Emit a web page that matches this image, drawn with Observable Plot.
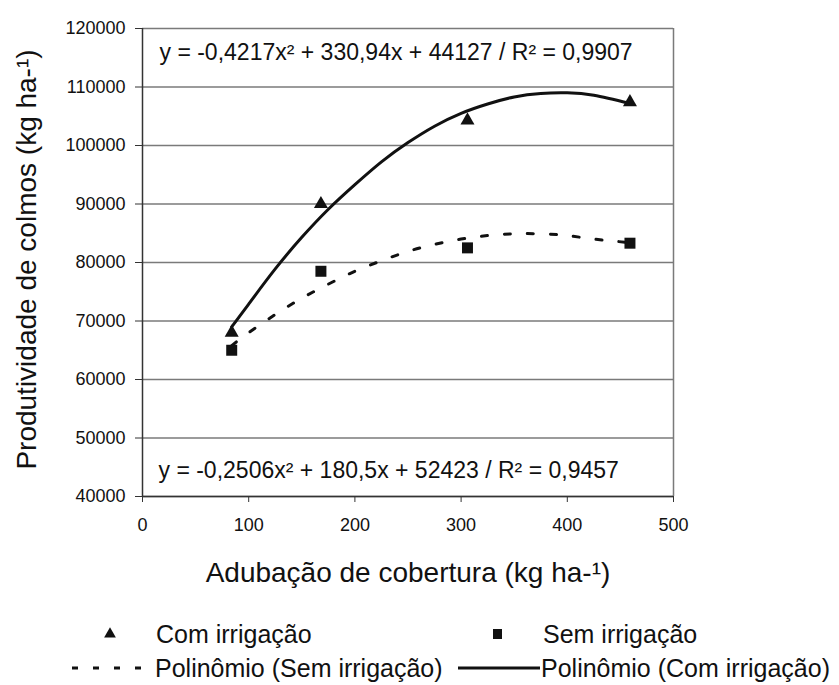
<!DOCTYPE html>
<html>
<head>
<meta charset="utf-8">
<script src="https://cdn.jsdelivr.net/npm/d3@7"></script>
<script src="https://cdn.jsdelivr.net/npm/@observablehq/plot@0.6"></script>
<style>
  html, body { margin: 0; padding: 0; background: #fff; }
  #wrap { position: relative; width: 839px; height: 685px; font-family: "Liberation Sans", Arial, sans-serif; color: #111; }
  #legend { position: absolute; left: 0; top: 600px; }
</style>
</head>
<body>
<div id="wrap"><div id="chart"></div><svg id="legend" width="839" height="85"></svg></div>
<script>
// Observed points
const dose = [84, 168, 306, 459];
const comIrrigacao = [68000, 90000, 104300, 107400];
const semIrrigacao = [65000, 78500, 82500, 83300];

// Trend curves
const fitX = [84, 100, 125, 150, 175, 200, 225, 250, 275, 300, 325, 350, 375, 400, 425, 459];
const fitCom = [69000, 72900, 78900, 84300, 89100, 93300, 97200, 100500, 103300, 105500, 107100, 108300, 108900, 109000, 108600, 107200];
const fitSem = [65800, 68000, 71100, 73900, 76300, 78500, 80300, 81900, 83100, 84000, 84600, 84900, 84900, 84600, 84000, 83400];

const xTicks = [0, 100, 200, 300, 400, 500];
const yTicks = [40000, 50000, 60000, 70000, 80000, 90000, 100000, 110000, 120000];

const eqCom = "y = -0,4217x² + 330,94x + 44127 / R² = 0,9907";
const eqSem = "y = -0,2506x² + 180,5x + 52423 / R² = 0,9457";
const xLabel = "Adubação de cobertura (kg ha-¹)";
const yLabel = "Produtividade de colmos (kg ha-¹)";

const legendItems = ["Com irrigação", "Sem irrigação", "Polinômio (Sem irrigação)", "Polinômio (Com irrigação)"];

const pts = dose.map((d, i) => ({x: d, com: comIrrigacao[i], sem: semIrrigacao[i]}));
const fit = fitX.map((d, i) => ({x: d, com: fitCom[i], sem: fitSem[i]}));

const font = "'Liberation Sans', Arial, sans-serif";

const chart = Plot.plot({
  width: 839,
  height: 600,
  marginLeft: 142,
  marginRight: 166,
  marginTop: 28,
  marginBottom: 104,
  style: {fontFamily: font, fontSize: "18px", color: "#111", background: "#fff", overflow: "visible"},
  x: {domain: [0, 500]},
  y: {domain: [40000, 120000]},
  marks: [
    Plot.ruleY(yTicks, {stroke: "#7a7a7a", strokeWidth: 1.5}),
    Plot.ruleX([500], {stroke: "#7a7a7a", strokeWidth: 1.5}),
    Plot.ruleX([0], {stroke: "#333", strokeWidth: 1.5}),
    Plot.ruleY([40000], {stroke: "#333", strokeWidth: 1.5}),
    Plot.axisY({ticks: yTicks, tickSize: 7, tickPadding: 10, label: null, tickFormat: d => String(d), fontSize: 18, stroke: "#333"}),
    Plot.axisX({ticks: xTicks, tickSize: 6, tickPadding: 16, label: null, tickFormat: d => String(d), fontSize: 18, stroke: "#333"}),
    Plot.line(fit, {x: "x", y: "sem", stroke: "#111", strokeWidth: 3, strokeDasharray: "6,17", curve: "natural"}),
    Plot.line(fit, {x: "x", y: "com", stroke: "#111", strokeWidth: 3, curve: "natural"}),
    Plot.dot(pts, {x: "x", y: "com", symbol: "triangle", r: 5.2, fill: "#111", stroke: null}),
    Plot.dot(pts, {x: "x", y: "sem", symbol: "square", r: 6.2, fill: "#111", stroke: null}),
    Plot.text([eqCom], {frameAnchor: "top-left", dx: 17, dy: 24, textAnchor: "start", lineAnchor: "middle", fontSize: 23, fill: "#111"}),
    Plot.text([eqSem], {frameAnchor: "bottom-left", dx: 16, dy: -26, textAnchor: "start", lineAnchor: "middle", fontSize: 23, fill: "#111"}),
    Plot.text([xLabel], {frameAnchor: "bottom", dy: 77, textAnchor: "middle", lineAnchor: "middle", fontSize: 28, fill: "#111"}),
    Plot.text([yLabel], {frameAnchor: "left", dx: -115, dy: -3, rotate: -90, textAnchor: "middle", lineAnchor: "middle", fontSize: 28, fill: "#111"})
  ]
});
document.getElementById("chart").appendChild(chart);

// Legend
const lg = d3.select("#legend").style("font-family", font);
const r1 = 34, r2 = 68;
lg.append("path").attr("d", d3.symbol(d3.symbolTriangle, 60)()).attr("transform", `translate(110,${r1})`).attr("fill", "#111");
lg.append("text").attr("x", 156).attr("y", r1).attr("dy", "0.35em").attr("font-size", 25).attr("fill", "#111").text(legendItems[0]);
lg.append("rect").attr("x", 493).attr("y", r1 - 5).attr("width", 9).attr("height", 10).attr("fill", "#111");
lg.append("text").attr("x", 543).attr("y", r1).attr("dy", "0.35em").attr("font-size", 25).attr("fill", "#111").text(legendItems[1]);
lg.append("line").attr("x1", 72).attr("x2", 154).attr("y1", r2).attr("y2", r2).attr("stroke", "#111").attr("stroke-width", 3).attr("stroke-dasharray", "6,15");
lg.append("text").attr("x", 155).attr("y", r2).attr("dy", "0.35em").attr("font-size", 25).attr("fill", "#111").text(legendItems[2]);
lg.append("line").attr("x1", 458).attr("x2", 540).attr("y1", r2).attr("y2", r2).attr("stroke", "#111").attr("stroke-width", 3);
lg.append("text").attr("x", 541).attr("y", r2).attr("dy", "0.35em").attr("font-size", 25).attr("fill", "#111").text(legendItems[3]);
</script>
</body>
</html>
